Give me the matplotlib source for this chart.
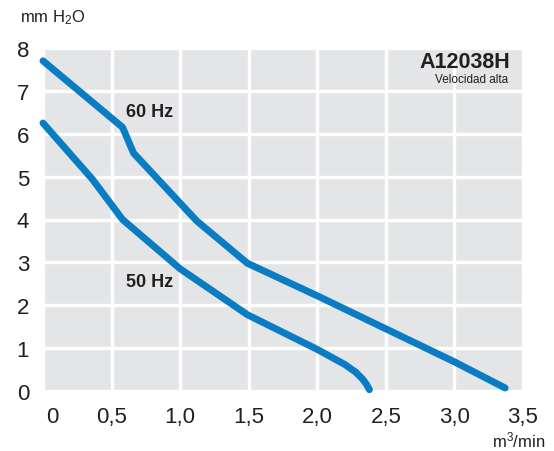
import matplotlib
matplotlib.use("Agg")
import matplotlib.pyplot as plt
import matplotlib.transforms as mtransforms

# Data
x60 = [0.0, 0.58, 0.66, 1.12, 1.49, 2.0, 2.5, 3.0, 3.37]
y60 = [7.70, 6.15, 5.55, 3.97, 2.98, 2.22, 1.45, 0.68, 0.07]
x50 = [0.0, 0.36, 0.58, 1.0, 1.49, 2.0, 2.2, 2.28, 2.33, 2.36, 2.38]
y50 = [6.25, 4.94, 4.0, 2.85, 1.78, 0.97, 0.62, 0.44, 0.28, 0.15, 0.03]

xticks = [0, 0.5, 1.0, 1.5, 2.0, 2.5, 3.0, 3.5]
xticklabels = ["0", "0,5", "1,0", "1,5", "2,0", "2,5", "3,0", "3,5"]
yticks = [0, 1, 2, 3, 4, 5, 6, 7, 8]

plt.rcParams['font.family'] = ['Liberation Sans', 'DejaVu Sans']
plt.rcParams['mathtext.fontset'] = 'custom'
plt.rcParams['mathtext.rm'] = 'Liberation Sans'
plt.rcParams['mathtext.it'] = 'Liberation Sans'
txt = '#231f20'
blue = '#0a7cc4'

fig = plt.figure(figsize=(5.54, 4.52), dpi=100)
ax = fig.add_axes([43/554, 1-392/452, 480/554, 343/452])
ax.set_facecolor('#e4e5e7')
ax.set_xlim(0, 3.5)
ax.set_ylim(0, 8)
for s in ax.spines.values():
    s.set_visible(False)
ax.set_xticks(xticks)
ax.set_xticklabels(xticklabels)
ax.set_yticks(yticks)
ax.tick_params(length=0, labelsize=16, colors=txt)
ax.tick_params(axis='x', pad=11)
ax.tick_params(axis='y', pad=10)
ax.grid(True, color='white', linewidth=2.4)
ax.set_axisbelow(True)
# shift the "0" x label slightly right
lab0 = ax.get_xticklabels()[0]
lab0.set_transform(lab0.get_transform() + mtransforms.ScaledTranslation(9/100, 0, fig.dpi_scale_trans))

ax.plot(x60, y60, color=blue, linewidth=5, solid_capstyle='round', solid_joinstyle='round', clip_on=False, zorder=3)
ax.plot(x50, y50, color=blue, linewidth=5, solid_capstyle='round', solid_joinstyle='round', clip_on=False, zorder=3)

ax.text(0.78, 6.53, "60 Hz", fontsize=13, fontweight='bold', color=txt, ha='center', va='center')
ax.text(0.78, 2.56, "50 Hz", fontsize=13, fontweight='bold', color=txt, ha='center', va='center')

fig.text(510/554, 1-62/452, "A12038H", fontsize=15.5, fontweight='bold', color=txt, ha='right', va='center')
fig.text(508/554, 1-80/452, "Velocidad alta", fontsize=8.5, color=txt, ha='right', va='center')

fig.text(20/554, 1-18/452, "mm H$_2$O", fontsize=12, color=txt, ha='left', va='center')
fig.text(545/554, 1-440/452, "m$^3$/min", fontsize=12, color=txt, ha='right', va='center')

fig.savefig("out.png", dpi=100, facecolor='white')
